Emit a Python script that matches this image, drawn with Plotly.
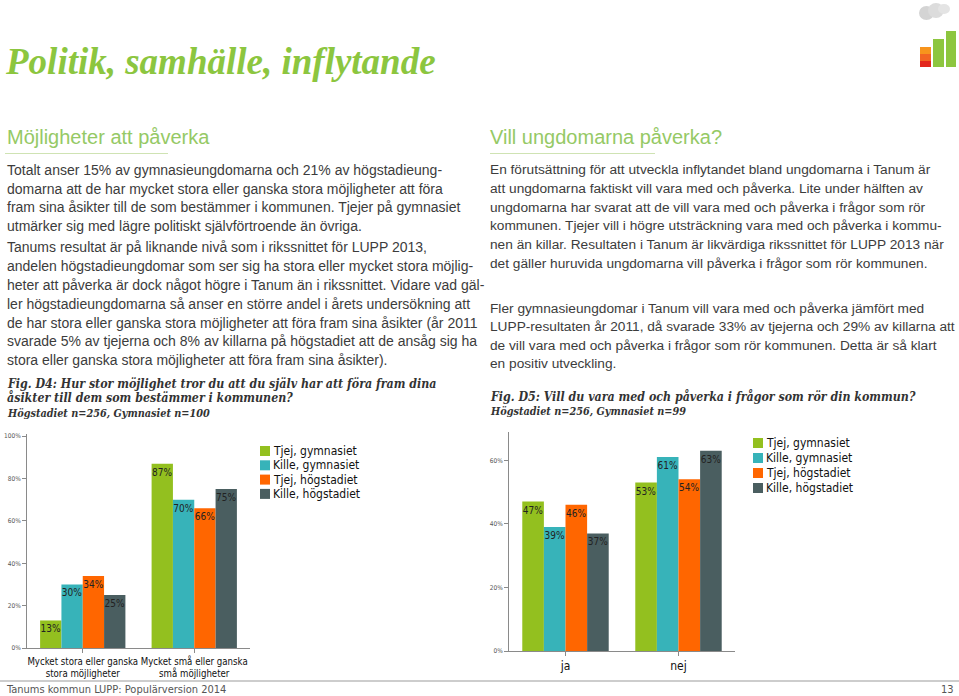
import plotly.graph_objects as go

W, H = 959, 696

# ---------------- data ----------------
series_names = ["Tjej, gymnasiet", "Kille, gymnasiet", "Tjej, högstadiet", "Kille, högstadiet"]
series_colors = ["#93c01f", "#37b3b9", "#ff6600", "#4a5e60"]

d4_categories = ["Mycket stora eller ganska<br>stora möjligheter",
                 "Mycket små eller ganska<br>små möjligheter"]
d4_tjej_gymnasiet = [13, 87]
d4_kille_gymnasiet = [30, 70]
d4_tjej_hogstadiet = [34, 66]
d4_kille_hogstadiet = [25, 75]
d4_ytick_vals = [0, 20, 40, 60, 80, 100]
d4_ytick_text = ["0%", "20%", "40%", "60%", "80%", "100%"]

d5_categories = ["ja", "nej"]
d5_tjej_gymnasiet = [47, 53]
d5_kille_gymnasiet = [39, 61]
d5_tjej_hogstadiet = [46, 54]
d5_kille_hogstadiet = [37, 63]
d5_ytick_vals = [0, 20, 40, 60]
d5_ytick_text = ["0%", "20%", "40%", "60%"]

# ---------------- helpers ----------------
def px(x):
    return x / W

def py(y):
    return 1 - y / H

CHART_FONT = "DejaVu Sans Condensed, Liberation Sans Narrow, Arial Narrow, Liberation Sans, sans-serif"
BODY_FONT = "Liberation Sans, Arial, sans-serif"
SERIF_FONT = "Liberation Serif, DejaVu Serif, serif"
CAPTION_FONT = "DejaVu Serif Condensed, Liberation Serif, serif"
BODY_COLOR = "#3c3c3c"

fig = go.Figure()

d4_sets = [d4_tjej_gymnasiet, d4_kille_gymnasiet, d4_tjej_hogstadiet, d4_kille_hogstadiet]
d5_sets = [d5_tjej_gymnasiet, d5_kille_gymnasiet, d5_tjej_hogstadiet, d5_kille_hogstadiet]

for name, col, vals in zip(series_names, series_colors, d4_sets):
    fig.add_trace(go.Bar(
        x=d4_categories, y=vals, name=name, marker=dict(color=col, line=dict(width=0)),
        text=[f"{v}%" for v in vals], textposition="inside", insidetextanchor="end",
        textangle=0, textfont=dict(family=CHART_FONT, size=10, color="#222222"),
        xaxis="x", yaxis="y", showlegend=False, hoverinfo="skip"))

for name, col, vals in zip(series_names, series_colors, d5_sets):
    fig.add_trace(go.Bar(
        x=d5_categories, y=vals, name=name, marker=dict(color=col, line=dict(width=0)),
        text=[f"{v}%" for v in vals], textposition="inside", insidetextanchor="end",
        textangle=0, textfont=dict(family=CHART_FONT, size=10, color="#222222"),
        xaxis="x2", yaxis="y2", showlegend=False, hoverinfo="skip"))

axis_common = dict(showline=True, linecolor="#8a8a8a", linewidth=1, ticks="outside",
                   tickcolor="#8a8a8a", showgrid=False, zeroline=False, fixedrange=True,
                   automargin=False)

fig.update_layout(
    width=W, height=H, margin=dict(l=0, r=0, t=0, b=0, pad=0, autoexpand=False),
    paper_bgcolor="white", plot_bgcolor="white",
    barmode="group", bargap=0.235, bargroupgap=0,
    uniformtext=dict(minsize=9.5, mode="show"),
    showlegend=False,
    xaxis=dict(domain=[px(27), px(250)], anchor="y", type="category", range=[-0.5, 1.5],
               ticklen=4, tickangle=0,
               tickfont=dict(family=CHART_FONT, size=9.6, color="#111111"),
               **axis_common),
    yaxis=dict(domain=[py(648), py(434)], anchor="x", range=[0, 101],
               tickvals=d4_ytick_vals, ticktext=d4_ytick_text, ticklen=4,
               tickfont=dict(family=CHART_FONT, size=6.5, color="#555555"), **axis_common),
    xaxis2=dict(domain=[px(509), px(735)], anchor="y2", type="category", range=[-0.5, 1.5],
                ticklen=4, tickangle=0,
                tickfont=dict(family=CHART_FONT, size=12, color="#111111"),
                **axis_common),
    yaxis2=dict(domain=[py(651), py(432)], anchor="x2", range=[0, 68.9],
                tickvals=d5_ytick_vals, ticktext=d5_ytick_text, ticklen=4,
                tickfont=dict(family=CHART_FONT, size=6.5, color="#555555"), **axis_common),
)

annotations = []
shapes = []

def text(x, y, t, size, color=BODY_COLOR, family=BODY_FONT, xanchor="left"):
    annotations.append(dict(x=px(x), y=py(y), xref="paper", yref="paper", text=t,
                            showarrow=False, xanchor=xanchor, yanchor="middle", borderpad=0,
                            font=dict(family=family, size=size, color=color)))

def rect(x0, y0, x1, y1, color):
    shapes.append(dict(type="rect", xref="paper", yref="paper", x0=px(x0), x1=px(x1),
                       y0=py(y1), y1=py(y0), fillcolor=color, line=dict(width=0), layer="above"))

def hline(x0, x1, y, color, width=1):
    shapes.append(dict(type="line", xref="paper", yref="paper", x0=px(x0), x1=px(x1),
                       y0=py(y), y1=py(y), line=dict(color=color, width=width)))

# Title
text(4, 61, "<b><i>Politik, samhälle, inflytande</i></b>", 37, color="#8cc63f", family=SERIF_FONT)

# Logo
shapes.append(dict(type="circle", xref="paper", yref="paper", x0=px(919), x1=px(934),
                   y0=py(20), y1=py(6), fillcolor="#d4d4d4", line=dict(width=0)))
shapes.append(dict(type="circle", xref="paper", yref="paper", x0=px(928), x1=px(944),
                   y0=py(18), y1=py(3), fillcolor="#dcdcdc", line=dict(width=0)))
shapes.append(dict(type="circle", xref="paper", yref="paper", x0=px(938), x1=px(950),
                   y0=py(14), y1=py(4), fillcolor="#e4e4e4", line=dict(width=0)))
rect(920, 47, 931, 54, "#f7941d")
rect(920, 54, 931, 61, "#f26522")
rect(920, 61, 931, 67, "#e2271c")
rect(933, 39, 944, 67, "#8dc63f")
rect(946, 31, 956, 67, "#8dc63f")

# Left column
text(6, 137, "Möjligheter att påverka", 20, color="#95c965")
hline(5, 168, 153.5, "#cfe3b3", 1.2)

left_p1 = [
    "Totalt anser 15% av gymnasieungdomarna och 21% av högstadieung-",
    "domarna att de har mycket stora eller ganska stora möjligheter att föra",
    "fram sina åsikter till de som bestämmer i kommunen. Tjejer på gymnasiet",
    "utmärker sig med lägre politiskt självförtroende än övriga.",
]
left_p2 = [
    "Tanums resultat är på liknande nivå som i rikssnittet för LUPP 2013,",
    "andelen högstadieungdomar som ser sig ha stora eller mycket stora möjlig-",
    "heter att påverka är dock något högre i Tanum än i rikssnittet. Vidare vad gäl-",
    "ler högstadieungdomarna så anser en större andel i årets undersökning att",
    "de har stora eller ganska stora möjligheter att föra fram sina åsikter (år 2011",
    "svarade 5% av tjejerna och 8% av killarna på högstadiet att de ansåg sig ha",
    "stora eller ganska stora möjligheter att föra fram sina åsikter).",
]
for i, ln in enumerate(left_p1):
    text(6, 170 + i * 18.6, ln, 14)
for i, ln in enumerate(left_p2):
    text(6, 247 + i * 18.9, ln, 14)

d4_caption = [
    "Fig. D4: Hur stor möjlighet tror du att du själv har att föra fram dina",
    "åsikter till dem som bestämmer i kommunen?",
]
for i, ln in enumerate(d4_caption):
    text(6, 383.3 + i * 14.4, f"<b><i>{ln}</i></b>", 12.3, color="#333333", family=CAPTION_FONT)
text(6, 413.5, "<b><i>Högstadiet n=256, Gymnasiet n=100</i></b>", 10.8, color="#333333", family=CAPTION_FONT)

# Right column
text(489, 137, "Vill ungdomarna påverka?", 20, color="#95c965")
hline(490, 655, 153.5, "#cfe3b3", 1.2)

right_p1 = [
    "En förutsättning för att utveckla inflytandet bland ungdomarna i Tanum är",
    "att ungdomarna faktiskt vill vara med och påverka. Lite under hälften av",
    "ungdomarna har svarat att de vill vara med och påverka i frågor som rör",
    "kommunen. Tjejer vill i högre utsträckning vara med och påverka i kommu-",
    "nen än killar. Resultaten i Tanum är likvärdiga rikssnittet för LUPP 2013 när",
    "det gäller huruvida ungdomarna vill påverka i frågor som rör kommunen.",
]
right_p2 = [
    "Fler gymnasieungdomar i Tanum vill vara med och påverka jämfört med",
    "LUPP-resultaten år 2011, då svarade 33% av tjejerna och 29% av killarna att",
    "de vill vara med och påverka i frågor som rör kommunen. Detta är så klart",
    "en positiv utveckling.",
]
for i, ln in enumerate(right_p1):
    text(489, 170 + i * 18.6, ln, 13.7)
for i, ln in enumerate(right_p2):
    text(489, 308 + i * 18.6, ln, 13.7)

text(489, 396, "<b><i>Fig. D5: Vill du vara med och påverka i frågor som rör din kommun?</i></b>",
     12.3, color="#333333", family=CAPTION_FONT)
text(489, 411.5, "<b><i>Högstadiet n=256, Gymnasiet n=99</i></b>", 10.8, color="#333333", family=CAPTION_FONT)

# Manual legends
def legend(x_sq, y0, step):
    for i, (name, col) in enumerate(zip(series_names, series_colors)):
        yc = y0 + i * step
        rect(x_sq, yc - 5, x_sq + 10, yc + 5, col)
        text(x_sq + 11.5, yc, name, 12, color="#111111", family=CHART_FONT)

legend(260, 451, 14.3)
legend(753, 443, 15)

# Footer
hline(0, 959, 681, "#bdbdbd", 1.5)
text(5, 689, "Tanums kommun LUPP: Populärversion 2014", 11, color="#555555", family=CHART_FONT)
text(955, 689, "13", 11, color="#555555", family=CHART_FONT, xanchor="right")

fig.update_layout(annotations=annotations, shapes=shapes)

fig.write_html("out.html", config={"displayModeBar": False},
               post_script="document.body.style.margin='0';document.body.style.overflow='hidden';")
